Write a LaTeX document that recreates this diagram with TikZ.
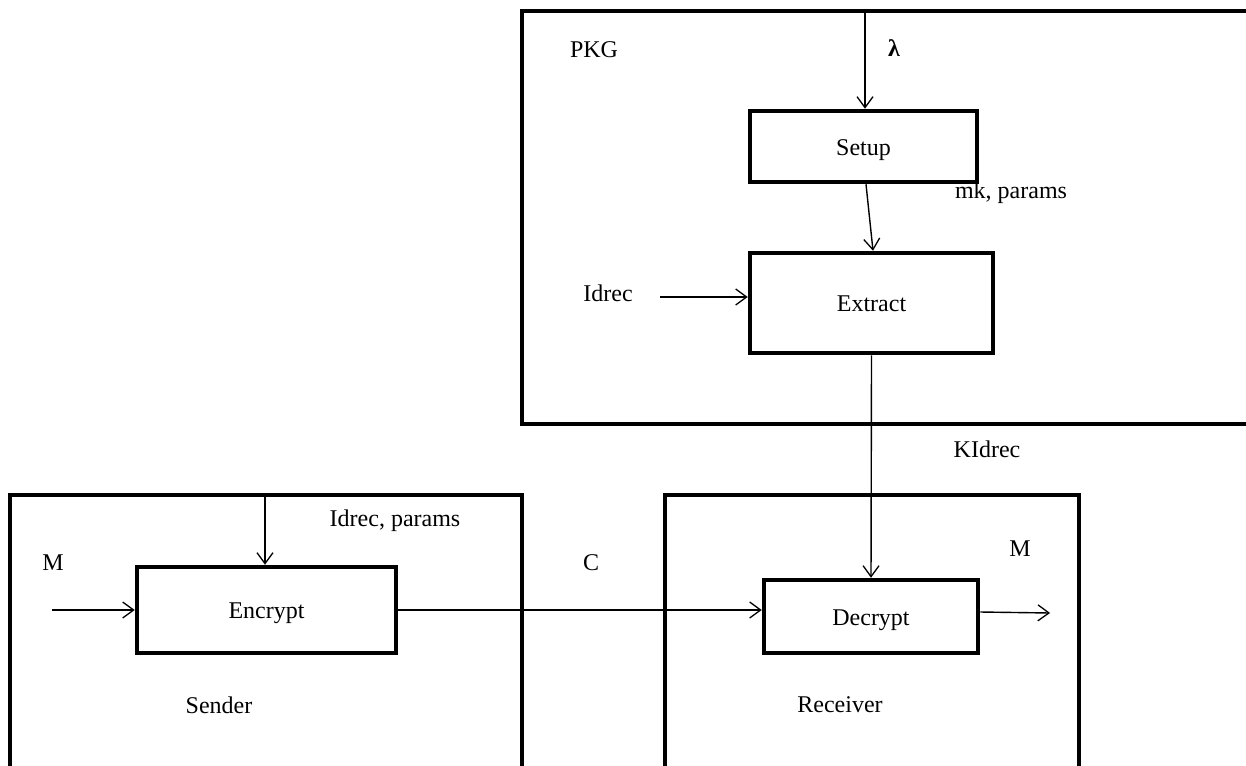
\documentclass[tikz,border=0pt]{standalone}
\usepackage{fontspec}
\setmainfont{Liberation Serif}
\usetikzlibrary{arrows.meta,calc}
\begin{document}
\begin{tikzpicture}[x=1pt,y=-1pt,
  outerbox/.style={draw,line width=4.5pt,minimum width=#1,inner sep=0pt},
  procbox/.style={draw,line width=4.5pt,inner sep=0pt,text height=17pt,text depth=0pt,font=\fontsize{24}{28}\selectfont},
  lbl/.style={inner sep=0pt,font=\fontsize{24}{28}\selectfont},
  flow/.style={line width=1.4pt,-{Straight Barb[length=11pt,width=16pt,line width=1.3pt]}}
]
\useasboundingbox (0,0) rectangle (1246,765);
% outer boxes
\node[outerbox=740pt,minimum height=413pt] (pkg) at (892,217.5) {};
\node[outerbox=512pt,minimum height=290pt] (sender) at (266,640) {};
\node[outerbox=414pt,minimum height=290pt] (receiver) at (872,640) {};
% process boxes
\node[procbox,minimum width=227pt,minimum height=71pt] (setup) at (863.5,146.5) {Setup};
\node[procbox,minimum width=243pt,minimum height=100pt] (extract) at (871.5,303) {Extract};
\node[procbox,minimum width=259pt,minimum height=86pt] (encrypt) at (266.5,610) {Encrypt};
\node[procbox,minimum width=214pt,minimum height=73pt] (decrypt) at (871,616.5) {Decrypt};
% labels
\node[lbl] (lpkg) at (594,50) {PKG};
\node[lbl] (llam) at (894,48) {\textbf{λ}};
\node[lbl] (lmk) at (1011,193) {mk, params};
\node[lbl] (lidrec) at (608,293) {Idrec};
\node[lbl] (lkid) at (987,449) {KIdrec};
\node[lbl] (lidp) at (395,521) {Idrec, params};
\node[lbl] (lm1) at (53,563) {M};
\node[lbl] (lc) at (591,563) {C};
\node[lbl] (lm2) at (1020,549) {M};
\node[lbl] (lsend) at (219,705) {Sender};
\node[lbl] (lrecv) at (840,705) {Receiver};
% coordinates
\coordinate (lamtop) at (865,11);
\coordinate (idin) at (660,297);
\coordinate (sendtop) at (265,495);
\coordinate (min) at (52,610);
\coordinate (mout) at (1050,613);
% connectors
\draw[flow] (lamtop) -- (lamtop |- setup.north);
\draw[flow] ($(setup.south)+(2.5,0)$) -- ($(extract.north)+(1.5,0)$);
\draw[flow] (idin) -- (idin -| extract.west);
\draw[flow] (extract.south) -- (decrypt.north);
\draw[flow] (sendtop) -- (sendtop |- encrypt.north);
\draw[flow] (min) -- (encrypt.west);
\draw[flow] (encrypt.east) -- (encrypt.east -| decrypt.west);
\draw[flow] ($(decrypt.east)+(0,-4.5)$) -- (mout);
\end{tikzpicture}
\end{document}
